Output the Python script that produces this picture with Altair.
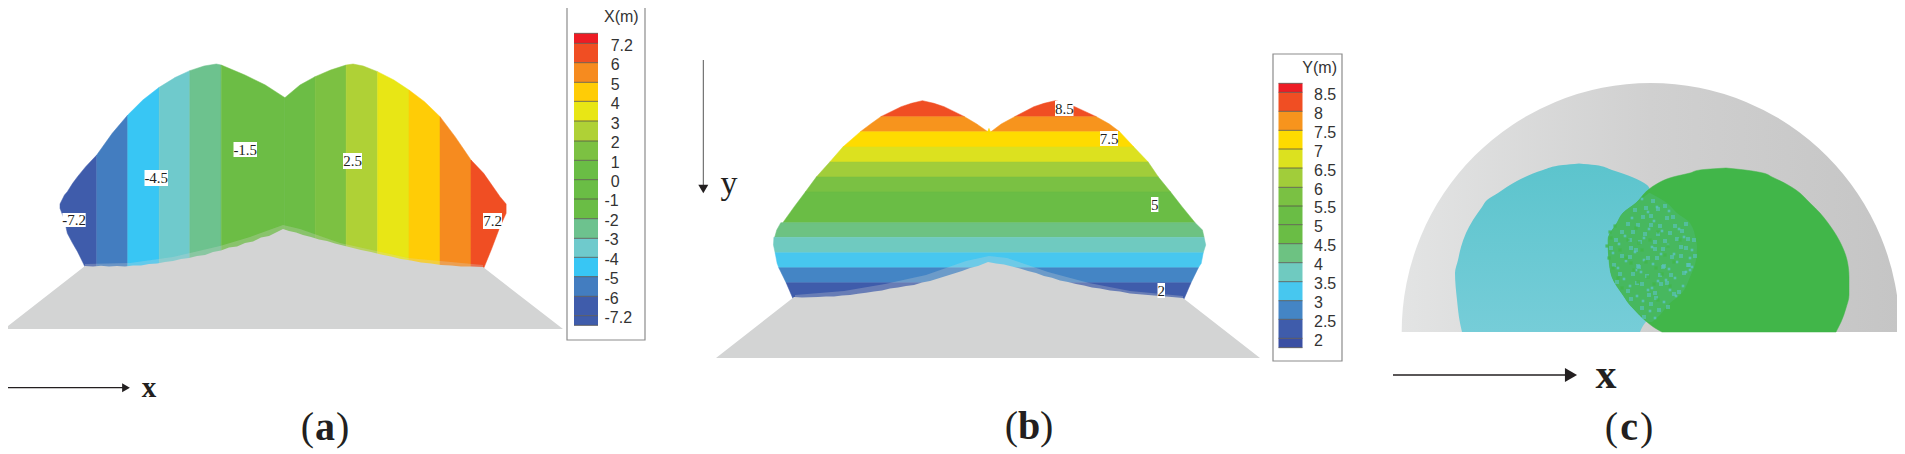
import altair as alt
import pandas as pd

# Shapes: panels (a),(b) in reading units,
# reference x = panel offset + u / 2.45, reference y = v / 3; the rest in reference px
SX = 2.45
SY = 3.0
OFF_A, OFF_B = 0.0, 640.0

X_COLORS = ["#ed1c24","#f04e23","#f68b1f","#ffcc06","#e8e615","#afd136","#7cc142","#6abd45",
            "#6abd45","#6abd45","#6dc28e","#6fcacc","#38c6f4","#437dc0","#3f5cab","#3f5cab"]
Y_COLORS = ["#ed1c24","#f04e23","#f7941d","#fedb00","#dce11f","#a1cd3a","#7ac143","#6abd45",
            "#6abd45","#6dc282","#6fcac0","#47c7ef","#4485c5","#3f5cab","#3a4fa3"]

A_BANDS = [
 ("#3f5cab",[147,158,165,178,190,210,237],[612,585,575,550,530,500,465],[625,660,700,730,755,805,820]),
 ("#437dc0",[237,275,313],[465,400,345],[820,820,820]),
 ("#38c6f4",[313,350,390],[345,300,262],[820,820,820]),
 ("#6fcacc",[390,430,465],[262,232,212],[820,820,820]),
 ("#6dc28e",[465,500,530,542],[212,198,192,195],[820,820,820,820]),
 ("#6cbd45",[542,600,650,698],[195,225,255,293],[820,820,820,820]),
 ("#6cbd45",[698,735,772],[293,255,230],[820,820,820]),
 ("#7cc142",[772,810,848],[230,210,195],[820,820,820]),
 ("#afd136",[848,865,890,925],[195,192,198,215],[820,820,820,820]),
 ("#e8e615",[925,965,1002],[215,240,270],[820,820,820]),
 ("#ffcc06",[1002,1040,1078],[270,305,350],[820,820,820]),
 ("#f68b1f",[1078,1115,1154],[350,410,480],[820,820,820]),
 ("#f04e23",[1154,1185,1205,1225,1240],[480,520,555,590,612],[820,805,745,680,640]),
]
B_BANDS = [
 ("#f04e23",[302,310,320,350],[692,665,640,590],[692,720,745,795]),
 ("#f04e23",[302,310,320,350],[1017,990,965,918],[1017,1045,1065,1118]),
 ("#f7941d",[350,372,395],[590,565,540],[795,825,852]),
 ("#f7941d",[350,372,395],[918,885,860],[1118,1150,1175]),
 ("#fedb00",[395,441],[540,497],[1175,1210]),
 ("#fedb00",[385,400],[855,850],[855,860]),
 ("#dce11f",[441,486],[497,465],[1210,1245]),
 ("#a1cd3a",[486,531],[465,432],[1245,1270]),
 ("#7ac143",[531,576],[432,405],[1270,1300]),
 ("#6abd45",[576,620,668],[405,378,350],[1300,1328,1360]),
 ("#6dc282",[668,690,712],[345,335,330],[1360,1378,1382]),
 ("#6fcac0",[712,735,758],[328,327,331],[1382,1386,1380]),
 ("#47c7ef",[758,790,803],[331,336,340],[1380,1375,1368]),
 ("#4485c5",[803,848],[340,358],[1368,1350]),
 ("#3f5cab",[848,905],[358,378],[1350,1330]),
]

# grounds, reference px: slightly rough front with a thin washed zone above it
GROUND_BASE_A, GROUND_BASE_B = 329, 358
A_EDGE_X = [4,85,93,101,109,117,125,133,141,149,157,165,173,181,189,197,205,213,221,229,237,245,253,261,269,277,283,289,296,303,311,319,327,335,343,351,361,371,381,391,401,411,421,431,441,451,461,471,483,563]
A_EDGE_Y = [329,266,266.6,265.8,266.4,266,266.4,265.4,265.4,264,263.4,262,261,259,258,256,255,252,250.5,247.5,246.5,243,241.5,237.5,236,232,229,231,232.5,235,237,239.5,241,243.5,245.5,247.5,250,252,254.5,256.5,259,260.5,262.5,263.5,265,265.5,266.5,266.5,267,329]
A_WASH_X = [85,130,173,220,250,283,300,340,408,483]
A_WASH_Y = [264,263,257,246,237,225,229,243,258,265]
B_EDGE_X = [716,794,802,810,818,826,834,842,850,858,866,874,882,890,898,906,914,922,930,938,946,954,962,970,978,988,996,1004,1012,1020,1028,1036,1044,1052,1060,1068,1076,1084,1092,1100,1110,1120,1130,1142,1154,1166,1183,1260]
B_EDGE_Y = [358,297,297.6,297.2,297,296.6,296.4,295.6,295,293.8,292.8,291.4,290.4,288.4,287.4,286,285,282.6,281,278.4,276,273.4,271,268,266,262,263.4,264.4,266.6,268.6,271,273,276,277.8,280.4,282,284,285.6,287.4,288.6,290.4,291.6,293.4,294.4,295.6,296.4,298,358]
B_WASH_X = [795,844,885,926,966,989,1007,1048,1089,1130,1183]
B_WASH_Y = [295,291,284,275,261,256,258,272,283,291,296]

# panel (c), reference px
DOME_X, DOME_Y, DOME_R = 1650.7, 332, 249
C_BLUE_Y = [163.5,165,170,177,185,193,200,207,220,233,247,260,273,300,323,332]
C_BLUE_L = [1579,1563,1543,1525,1510,1498,1487,1482,1473,1466,1461,1458,1455,1457,1460,1462]
C_BLUE_R = [1579,1595,1612,1632,1647,1652,1662,1672,1685,1693,1697,1696,1694,1678,1645,1640]
C_GREEN_Y = [168,170,173,177,185,190,203,213,223,240,260,277,295,308,322,328,332]
C_GREEN_L = [1726,1700,1690,1673,1655,1648,1636,1623,1617,1608,1609,1612,1623,1633,1647,1655,1662]
C_GREEN_R = [1726,1745,1763,1772,1788,1796,1810,1820,1828,1839,1847,1849,1849,1846,1841,1838,1836]
C_MIX_Y = [193,203,213,223,240,247,260,277,295,303,315,322]
C_MIX_L = [1649,1636,1623,1617,1608,1608,1609,1612,1623,1628,1640,1648]
C_MIX_R = [1650,1667,1677,1690,1696,1697,1696,1690,1680,1670,1660,1652]
MIX_BLUE_X = [1646,1653,1665,1635,1651,1658,1673,1628,1643,1651,1667,1675,1622,1638,1645,1660,1670,1686,
              1616,1633,1640,1658,1665,1682,1688,1611,1630,1636,1655,1663,1677,1686,1694,
              1622,1631,1648,1655,1672,1681,1695,1614,1630,1639,1657,1664,1681,1689,
              1620,1638,1647,1663,1671,1688,1617,1633,1642,1660,1667,1684,
              1628,1637,1655,1661,1679,1631,1649,1656,1674,1642,1651,1668,1644,1659]
MIX_BLUE_Y = [208,201,206,210,216,209,217,224,217,225,218,226,232,225,234,226,233,224,
              240,232,242,234,241,231,239,248,240,250,242,249,239,248,240,
              256,248,258,249,257,247,256,265,257,267,258,266,256,265,
              274,266,276,267,275,265,282,274,284,275,283,273,
              291,283,293,284,292,299,295,298,294,308,304,307,317,310]
MIX_BLUE2_X = [1642,1657,1648,1669,1632,1654,1679,1625,1649,1662,1684,1619,1644,1668,1692,1613,1635,1652,1674,1690,
               1626,1644,1661,1677,1692,1618,1636,1653,1669,1686,1624,1641,1658,1675,1690,1630,1652,1666,1683,
               1637,1648,1670,1676,1643,1664,1650,1655]
MIX_BLUE2_Y = [199,207,212,211,218,221,229,236,229,231,237,244,238,245,250,253,252,247,254,258,
               261,260,254,262,267,268,270,264,269,272,279,272,281,278,270,286,288,280,286,
               296,290,290,296,301,302,311,318]
MIX_GREEN_X = [1610,1607,1609,1613,1618,1622,1628,1636,1626,1642,1634,1650,1658,1646,1638,1662,1654,1668,1674,1680,1670,1658,
               1615,1611,1620,1631,1639,1648,1656,1665]
MIX_GREEN_Y = [232,246,258,268,278,288,240,228,258,250,270,240,232,262,282,274,284,246,262,240,286,300,
               226,238,250,263,243,277,268,255]

LEG_A_EDGES = [100,130,188,247,304,363,423,481,539,597,656,715,772,830,889,947,976]
LEG_A_TEXT = ["7.2","6","5","4","3","2","1","0","-1","-2","-3","-4","-5","-6","-7.2"]
LEG_A_Y = [137,196,255,313,371,430,488,546,604,662,721,779,838,896,955]
LEG_B_EDGES = [250,277,334,391,447,504,562,618,674,731,788,845,902,958,1015,1043]
LEG_B_TEXT = ["8.5","8","7.5","7","6.5","6","5.5","5","4.5","4","3.5","3","2.5","2"]
LEG_B_Y = [285,342,398,455,512,569,625,682,739,795,852,909,965,1022]

TAGS = [("-7.2",62.4,85.7,213,227),("-4.5",144.5,168,170,186),("-1.5",233.5,257,142,157),
        ("2.5",343,362,153,169),("7.2",483,502,213,229),
        ("8.5",1055,1073.5,101,116),("7.5",1100,1118,131,146),("5",1151,1158.4,197,212),("2",1157.5,1165,283,298)]

DOM_X, DOM_Y = [8,1897], [454,8]
X = alt.X("x:Q", scale=alt.Scale(domain=DOM_X), axis=None)
Y = alt.Y("y:Q", scale=alt.Scale(domain=DOM_Y), axis=None, stack=None)
X2 = alt.X2("x2:Q"); Y2 = alt.Y2("y2:Q")
XH = alt.X("x:Q", scale=alt.Scale(domain=DOM_X), axis=None, stack=None)
YH = alt.Y("y:Q", scale=alt.Scale(domain=DOM_Y), axis=None)

def v_area(off, xs, top, bot, color, sw=1.0, sx=SX, sy=SY, op=1):
    d = pd.DataFrame({"x":[off+u/sx for u in xs],"y":[v/sy for v in top],"y2":[v/sy for v in bot]})
    return alt.Chart(d).mark_area(color=color, stroke=color, strokeWidth=sw, strokeOpacity=0.5, opacity=op).encode(x=X,y=Y,y2=Y2)

def h_area(off, ys, left, right, color, sw=1.0, sx=SX, sy=SY, interp="linear"):
    d = pd.DataFrame({"y":[v/sy for v in ys],"x":[off+u/sx for u in left],"x2":[off+u/sx for u in right]})
    return alt.Chart(d).mark_area(orient="horizontal", color=color, stroke=color, strokeWidth=sw, strokeOpacity=0.5, interpolate=interp).encode(x=XH,y=YH,x2=X2)

def rect(x0,x1,y0,y1,fill,stroke=None,sw=0):
    d = pd.DataFrame({"x":[x0],"x2":[x1],"y":[y0],"y2":[y1]})
    kw = dict(fill=fill, strokeWidth=sw)
    if stroke: kw["stroke"]=stroke
    return alt.Chart(d).mark_rect(**kw).encode(x=X,x2=X2,y=Y,y2=Y2)

def txt(s,x,y,size,font="Liberation Sans",align="left",baseline="middle",weight="normal",color="#231f20"):
    d = pd.DataFrame({"x":[x],"y":[y],"t":[s]})
    return alt.Chart(d).mark_text(font=font,fontSize=size,align=align,baseline=baseline,fontWeight=weight,color=color).encode(x=X,y=Y,text="t:N")

def line(x0,x1,y0,y1,color,sw):
    d = pd.DataFrame({"x":[x0],"x2":[x1],"y":[y0],"y2":[y1]})
    return alt.Chart(d).mark_rule(color=color,strokeWidth=sw).encode(x=X,x2=X2,y=Y,y2=Y2)

def head(x,y,shape,size,color):
    d = pd.DataFrame({"x":[x],"y":[y]})
    return alt.Chart(d).mark_point(shape=shape,size=size,filled=True,color=color,opacity=1).encode(x=X,y=Y)

def specks(xs,ys,color,size=4,op=1):
    d = pd.DataFrame({"x":xs,"y":ys})
    return alt.Chart(d).mark_point(shape="square",size=size,filled=True,color=color,opacity=op).encode(x=X,y=Y)

layers = []
GREY = "#d3d4d4"
# panel a
for c,xs,t,b in A_BANDS:
    layers.append(v_area(OFF_A,xs,t,b,c))
layers.append(v_area(0,A_WASH_X,A_WASH_Y,[270]*len(A_WASH_X),GREY,sw=0,sx=1,sy=1,op=0.28))
layers.append(v_area(0,A_EDGE_X,A_EDGE_Y,[GROUND_BASE_A]*len(A_EDGE_X),GREY,sw=0,sx=1,sy=1))
# panel b
for c,ys,l,r in B_BANDS:
    layers.append(h_area(OFF_B,ys,l,r,c))
layers.append(v_area(0,B_WASH_X,B_WASH_Y,[300]*len(B_WASH_X),GREY,sw=0,sx=1,sy=1,op=0.28))
layers.append(v_area(0,B_EDGE_X,B_EDGE_Y,[GROUND_BASE_B]*len(B_EDGE_X),GREY,sw=0,sx=1,sy=1))
# panel c
dome_fill = alt.Gradient(gradient="linear",x1=0,x2=1,y1=0,y2=0,stops=[
    alt.GradientStop(offset=0,color="#e3e4e4"),alt.GradientStop(offset=0.5,color="#d0d0d0"),alt.GradientStop(offset=1,color="#c5c5c5")])
dome = pd.DataFrame({"x":[DOME_X],"y":[DOME_Y],"t0":[4.7124],"t1":[7.854]})
layers.append(alt.Chart(dome).mark_arc(radius=DOME_R,color=dome_fill).encode(
    x=X,y=Y,theta=alt.Theta("t0:Q",scale=None),theta2=alt.Theta2("t1:Q")))
blue = alt.Gradient(gradient="linear",x1=0,x2=0,y1=0,y2=1,stops=[alt.GradientStop(offset=0,color="#5cc4cd"),alt.GradientStop(offset=1,color="#76cdd8")])
bd = pd.DataFrame({"y":C_BLUE_Y,"x":C_BLUE_L,"x2":C_BLUE_R})
layers.append(alt.Chart(bd).mark_area(orient="horizontal",color=blue,interpolate="monotone").encode(x=XH,y=YH,x2=X2))
layers.append(h_area(0,C_GREEN_Y,C_GREEN_L,C_GREEN_R,"#41b649",sx=1,sy=1,interp="monotone"))
layers.append(h_area(0,C_MIX_Y,C_MIX_L,C_MIX_R,"#47b85f",sx=1,sy=1,sw=0,interp="monotone"))
layers.append(specks(MIX_BLUE_X,MIX_BLUE_Y,"#5cc2c4",16,0.6))
layers.append(specks(MIX_BLUE2_X,MIX_BLUE2_Y,"#5cc2c4",7,0.8))
layers.append(specks(MIX_GREEN_X,MIX_GREEN_Y,"#41b649",10,0.8))

def legend(box,bar,edges,colors,title,title_x,title_y,texts,ys,xfun):
    out = [rect(*box,"#ffffff","#8c8c8c",1.2)]
    n=len(edges)-1
    for i in range(n):
        out.append(rect(bar[0],bar[1],edges[i]/SY,edges[i+1]/SY,colors[i]))
    for e in edges:
        out.append(line(bar[0],bar[1],e/SY,e/SY,"#55504a",0.8))
    out.append(txt(title,title_x,title_y,16,align="right",color="#333333"))
    for s,y in zip(texts,ys):
        out.append(txt(s,xfun(s),y/SY,16,color="#333333"))
    return out
layers += legend((567,645,4,340),(574,598),LEG_A_EDGES,X_COLORS,"X(m)",638.7,17.3,LEG_A_TEXT,LEG_A_Y,lambda s:604.5 if s.startswith("-") else 610.7)
layers += legend((1273,1342,54,361),(1278.5,1302.5),LEG_B_EDGES,Y_COLORS,"Y(m)",1337,68,LEG_B_TEXT,LEG_B_Y,lambda s:1314)

for s,x0,x1,y0,y1 in TAGS:
    layers.append(rect(x0,x1,y0,y1,"#ffffff"))
    layers.append(txt(s,(x0+x1)/2,(y0+y1)/2,15,font="Liberation Serif",align="center"))

layers += [line(7.3,125,387.7,387.7,"#231f20",1.2), head(126,387.7,"triangle-right",81,"#231f20"),
           txt("x",149,387.5,29,font="Liberation Serif",align="center",weight="bold"),
           line(703.3,703.3,60,188,"#555555",1), head(703.3,189,"triangle-down",100,"#231f20"),
           txt("y",729,184,34,font="Liberation Serif",align="center"),
           line(1393,1566,375,375,"#231f20",1.5), head(1571,375,"triangle-right",196,"#231f20"),
           txt("x",1606,375,42,font="Liberation Serif",align="center",weight="bold")]

for letter,cx,base in [("a",325,440),("b",1029,439),("c",1629,440)]:
    layers.append(txt("(",cx-11,base,40,font="Liberation Serif",align="right",baseline="alphabetic"))
    layers.append(txt(letter,cx,base,40,font="Liberation Serif",align="center",baseline="alphabetic",weight="bold"))
    layers.append(txt(")",cx+11,base,40,font="Liberation Serif",align="left",baseline="alphabetic"))

chart = alt.layer(*layers).properties(width=1889,height=446,padding=0,autosize=alt.AutoSizeParams(type="none")).configure_view(stroke=None)
chart.save("out.html", embed_options={"renderer": "svg", "actions": False})
